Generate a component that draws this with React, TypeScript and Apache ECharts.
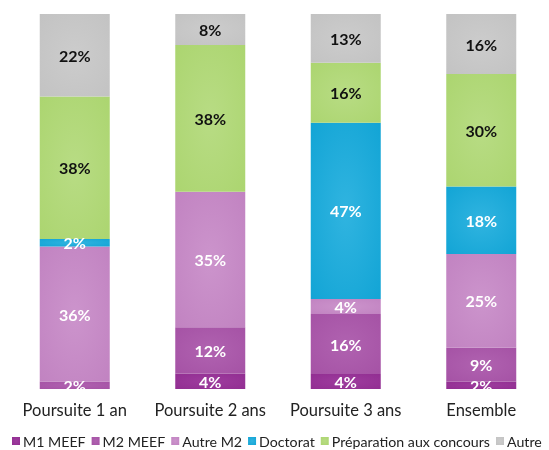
import React, { useEffect, useRef } from "react";
import * as echarts from "echarts";

const categories = ["Poursuite 1 an", "Poursuite 2 ans", "Poursuite 3 ans", "Ensemble"];
const seriesNames = ["M1 MEEF", "M2 MEEF", "Autre M2", "Doctorat", "Préparation aux concours", "Autre"];
const m1Meef = [0, 4, 4, 2];
const m2Meef = [2, 12, 16, 9];
const autreM2 = [36, 35, 4, 25];
const doctorat = [2, 0, 47, 18];
const preparation = [38, 38, 16, 30];
const autre = [22, 8, 13, 16];
const allValues = [m1Meef, m2Meef, autreM2, doctorat, preparation, autre];

const baseColors = ["#8e2a8e", "#a24ea2", "#be7ebe", "#0aa0d2", "#a8d36a", "#c0c0c0"];
const centerColors = ["#9e3c9e", "#b062b0", "#cc94cc", "#30b4e0", "#b8dc84", "#cccccc"];
const labelColors = ["#fff", "#fff", "#fff", "#fff", "#111", "#111"];

export default function App() {
  const ref = useRef<HTMLDivElement>(null);
  useEffect(() => {
    if (!ref.current) return;
    const chart = echarts.init(ref.current, null, { renderer: "svg" });
    const totals = categories.map((_, i) => allValues.reduce((s, arr) => s + arr[i], 0));
    const series = allValues.map((vals, k) => ({
      name: seriesNames[k],
      type: "bar" as const,
      stack: "total",
      barWidth: 70,
      data: vals.map((v, i) => ({ value: (v / totals[i]) * 100, raw: v })),
      itemStyle: {
        borderWidth: 0,
        color: {
          type: "radial",
          x: 0.5,
          y: 0.5,
          r: 0.9,
          colorStops: [
            { offset: 0, color: centerColors[k] },
            { offset: 1, color: baseColors[k] },
          ],
        },
      },
      label: {
        show: true,
        position: "inside",
        color: labelColors[k],
        fontWeight: "bold",
        fontSize: 16,
        fontFamily: "Lato",
        formatter: (p: any) => (p.data.raw > 0 ? p.data.raw + "%" : ""),
      },
    }));
    chart.setOption({
      animation: false,
      grid: { left: 7, top: 14, width: 544, height: 375 },
      xAxis: {
        type: "category",
        data: categories,
        axisLine: { show: false },
        axisTick: { show: false },
        axisLabel: { interval: 0, fontSize: 16.5, color: "#222", margin: 12, fontFamily: "Lato" },
      },
      yAxis: { type: "value", min: 0, max: 100, show: false },
      legend: {
        left: 12,
        top: 434,
        width: 700,
        padding: 0,
        itemWidth: 8,
        itemHeight: 8,
        itemGap: 6,
        icon: "rect",
        textStyle: { fontSize: 14.2, color: "#222", fontFamily: "Lato", padding: [0, 0, 0, -2] },
        data: seriesNames,
      },
      series,
    });
    return () => chart.dispose();
  }, []);
  return (
    <div
      ref={ref}
      style={{ position: "fixed", left: 0, top: 0, width: 549, height: 450 }}
    />
  );
}
